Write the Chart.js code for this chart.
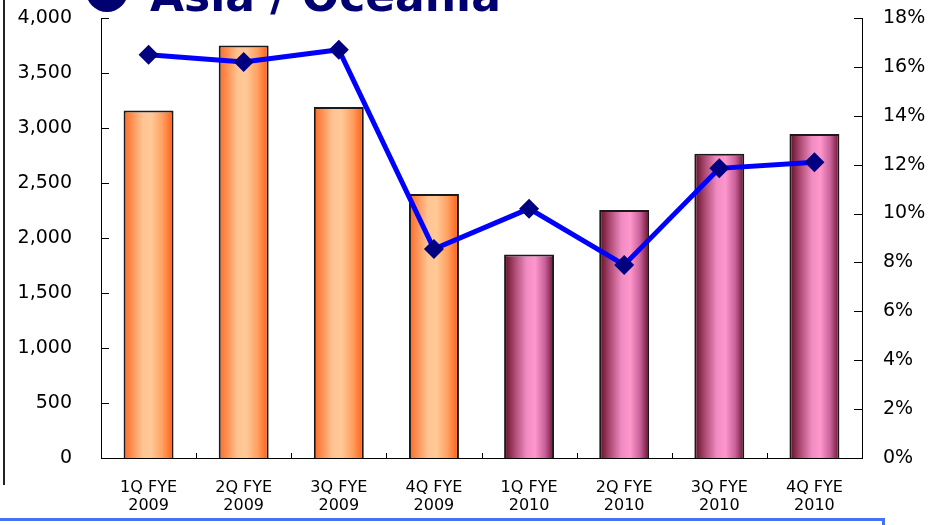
<!DOCTYPE html>
<html>
<head>
<meta charset="utf-8">
<script src="https://cdn.jsdelivr.net/npm/chart.js@4.4.1/dist/chart.umd.min.js"></script>
<style>
  html, body { margin: 0; padding: 0; background: #fff; overflow: hidden; }
  #wrap { position: relative; width: 933px; height: 525px; overflow: hidden; }
  #chart { position: absolute; left: 0; top: 0; }
  #heading { position: absolute; left: 0; top: 0; width: 933px; height: 20px; z-index: 2; }
  #heading .dot { position: absolute; left: 86px; top: -30px; width: 42px; height: 42px; border-radius: 50%; background: #000070; }
  #heading .txt { position: absolute; left: 150px; top: -26px; font: bold 44px/44px "DejaVu Sans", Verdana, sans-serif; color: #000070; white-space: nowrap; }
  #rule { position: absolute; left: 3px; top: 0; width: 2px; height: 485px; background: #222; z-index: 2; }
  #note { position: absolute; left: -3px; top: 518px; width: 888px; height: 40px; border: 3px solid #4472f0; box-sizing: border-box; z-index: 2; }
</style>
</head>
<body>
<div id="wrap">
  <canvas id="chart" width="933" height="525"></canvas>
  <div id="heading"><span class="dot"></span><span class="txt">Asia / Oceania</span></div>
  <div id="rule"></div>
  <div id="note"></div>
</div>
<script>
// Quarterly categories (two-line labels)
const categories = [
  ['1Q FYE', '2009'], ['2Q FYE', '2009'], ['3Q FYE', '2009'], ['4Q FYE', '2009'],
  ['1Q FYE', '2010'], ['2Q FYE', '2010'], ['3Q FYE', '2010'], ['4Q FYE', '2010']
];
// Sales (left axis)
const sales = [3160, 3750, 3190, 2400, 1850, 2255, 2765, 2945];
// Margin in percent (right axis)
const marginPct = [16.5, 16.2, 16.7, 8.55, 10.2, 7.9, 11.85, 12.1];
// Axis tick values
const salesTicks = [0, 500, 1000, 1500, 2000, 2500, 3000, 3500, 4000];
const pctTicks = [0, 2, 4, 6, 8, 10, 12, 14, 16, 18];

const BAR_PCT = 0.525;
const AXIS_FONT = { family: '"DejaVu Sans", Verdana, sans-serif', size: 19 };

// Cylinder-like horizontal shading for each bar, orange for FY2009 and pink for FY2010
const orangeStops = [[0, '#ff6a1f'], [0.15, '#ff8c50'], [0.38, '#ffc493'], [0.55, '#ffc996'], [0.78, '#ff9f60'], [1, '#ff5a10']];
const pinkStops = [[0, '#5e0b22'], [0.2, '#a8466e'], [0.45, '#f08cc2'], [0.62, '#ff96cc'], [0.82, '#c8609a'], [1, '#6a0f28']];

function barFill(ctx) {
  const chart = ctx.chart;
  const xs = chart.scales.x;
  const i = ctx.dataIndex;
  if (!xs || i == null || !isFinite(xs.width)) return '#ff9a50';
  const cx = xs.getPixelForValue(i);
  const half = (xs.width / categories.length) * BAR_PCT / 2;
  const g = chart.ctx.createLinearGradient(cx - half, 0, cx + half, 0);
  const stops = categories[i][1] === '2009' ? orangeStops : pinkStops;
  stops.forEach(([o, c]) => g.addColorStop(o, c));
  return g;
}

// Short inward tick marks on both value axes and category separators on the base line
const inwardTicks = {
  id: 'inwardTicks',
  afterDraw(chart) {
    const { ctx, chartArea: a, scales } = chart;
    ctx.save();
    ctx.strokeStyle = '#000';
    ctx.lineWidth = 1;
    ctx.beginPath();
    scales.y.ticks.forEach((t, k) => {
      const py = Math.round(scales.y.getPixelForTick(k)) + 0.5;
      ctx.moveTo(a.left, py); ctx.lineTo(a.left + 8, py);
    });
    scales.y1.ticks.forEach((t, k) => {
      const py = Math.round(scales.y1.getPixelForTick(k)) + 0.5;
      ctx.moveTo(a.right - 8, py); ctx.lineTo(a.right, py);
    });
    for (let k = 1; k < categories.length; k++) {
      const px = Math.round((scales.x.getPixelForValue(k - 1) + scales.x.getPixelForValue(k)) / 2) + 0.5;
      ctx.moveTo(px, a.bottom); ctx.lineTo(px, a.bottom - 5);
    }
    ctx.stroke();
    ctx.restore();
  }
};

function fixVertical(width) {
  return s => { s.width = width; s.paddingTop = 0; s.paddingBottom = 0; };
}

new Chart(document.getElementById('chart'), {
  data: {
    labels: categories,
    datasets: [
      {
        type: 'line',
        data: marginPct,
        yAxisID: 'y1',
        order: 0,
        borderColor: '#0000ff',
        borderWidth: 5,
        tension: 0,
        pointStyle: 'rectRot',
        pointRadius: 10,
        pointBackgroundColor: '#000080',
        pointBorderColor: '#000080',
        pointBorderWidth: 0
      },
      {
        type: 'bar',
        data: sales,
        yAxisID: 'y',
        order: 1,
        backgroundColor: barFill,
        borderColor: '#1a1a1a',
        borderWidth: 2,
        borderSkipped: 'bottom',
        categoryPercentage: 1,
        barPercentage: BAR_PCT
      }
    ]
  },
  options: {
    responsive: false,
    animation: false,
    events: [],
    layout: { padding: { top: 18, left: 0, right: 0, bottom: 0 } },
    plugins: { legend: { display: false }, tooltip: { enabled: false }, title: { display: false } },
    scales: {
      x: {
        type: 'category',
        grid: { display: false, drawTicks: false },
        border: { display: true, color: '#000', width: 1 },
        ticks: {
          color: '#000',
          maxRotation: 0,
          autoSkip: false,
          padding: 21,
          font: { family: '"DejaVu Sans", Verdana, sans-serif', size: 16, lineHeight: 1.1 }
        },
        afterFit(s) { s.height = 67; s.paddingLeft = 0; s.paddingRight = 0; }
      },
      y: {
        position: 'left',
        min: 0,
        max: 4000,
        grid: { display: false, drawTicks: false },
        border: { display: true, color: '#000', width: 1 },
        afterBuildTicks(s) { s.ticks = salesTicks.map(v => ({ value: v })); },
        ticks: {
          color: '#000',
          padding: 29,
          font: AXIS_FONT,
          callback: v => v.toLocaleString('en-US')
        },
        afterFit: fixVertical(101)
      },
      y1: {
        position: 'right',
        min: 0,
        max: 18,
        grid: { display: false, drawTicks: false },
        border: { display: true, color: '#000', width: 1 },
        afterBuildTicks(s) { s.ticks = pctTicks.map(v => ({ value: v })); },
        ticks: {
          color: '#000',
          padding: 21,
          font: AXIS_FONT,
          callback: v => v + '%'
        },
        afterFit: fixVertical(71)
      }
    }
  },
  plugins: [inwardTicks]
});
</script>
</body>
</html>
